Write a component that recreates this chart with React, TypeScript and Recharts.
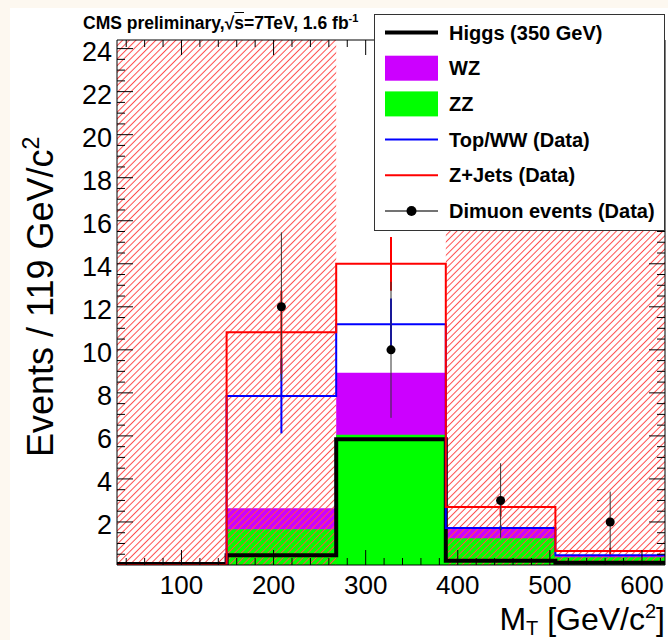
import React from 'react';
import { ComposedChart, Area, Line, Scatter, ErrorBar, XAxis, YAxis, Legend } from 'recharts';

const FONT = '"Liberation Sans", Arial, Helvetica, sans-serif';

// M_T bin edges in GeV/c^2: five bins, 119 GeV wide
const binEdges = [30, 149, 268, 387, 506, 625];

// expected events per bin, stacked from the bottom: ZZ, WZ, Top/WW, Z+Jets
const zzEvents = [0, 1.66, 6.05, 1.24, 0.36];
const wzEvents = [0, 0.98, 2.89, 0.43, 0.06];
const topWWEvents = [0, 5.22, 2.25, 0.05, 0.03];
const zJetsEvents = [0, 2.96, 2.81, 0.98, 0.2];
const higgsEvents = [0.05, 0.45, 5.85, 0.2, 0.1];

// uncertainties of the data-driven backgrounds
const topWWErr = [0, 1.74, 1.2, 0.1, 0.05];
const zJetsErr = [0, 1.93, 1.25, 0.45, 0.15];

// observed dimuon events (nothing in the first bin)
const dataEvents = [0, 12, 10, 3, 2];
const dataErr = [0, 3.46, 3.16, 1.73, 1.41];

// bins outside the M_T window are hatched
const vetoed = [true, true, false, true, true];

const xLabelTicks = [100, 200, 300, 400, 500, 600];
const yLabelTicks = [2, 4, 6, 8, 10, 12, 14, 16, 18, 20, 22, 24];

const X_MIN = 30;
const X_MAX = 625;
const Y_MAX = 24.4;

// minor tick grids; labelled values are picked from the lists above
const xTicks: number[] = [];
for (let v = 40; v <= 620; v += 20) xTicks.push(v);
const yTicks: number[] = [];
for (let v = 0.5; v <= 24; v += 0.5) yTicks.push(v);

const lastBin = binEdges.length - 2;
// one row per bin edge; the last edge repeats the last bin so the steps reach the frame
const histRows = binEdges.map((x, i) => {
  const b = Math.min(i, lastBin);
  const zz = zzEvents[b];
  const wz = zz + wzEvents[b];
  const topww = wz + topWWEvents[b];
  const total = topww + zJetsEvents[b];
  return { x, zz, wz, topww, total, higgs: higgsEvents[b], veto: vetoed[b] ? Y_MAX : 0 };
});

const binCenters = binEdges.slice(0, -1).map((e, i) => (e + binEdges[i + 1]) / 2);
const topWWPoints = binCenters
  .map((x, i) => ({ x, y: histRows[i].topww, err: topWWErr[i] }))
  .filter((p) => p.err > 0);
const zJetsPoints = binCenters
  .map((x, i) => ({ x, y: histRows[i].total, err: zJetsErr[i] }))
  .filter((p) => p.err > 0);
const dataPoints = binCenters
  .map((x, i) => ({ x, y: dataEvents[i], err: dataErr[i] }))
  .filter((p) => p.y > 0);

const legendEntries = [
  { label: 'Higgs (350 GeV)', kind: 'line', color: '#000000', width: 4 },
  { label: 'WZ', kind: 'box', color: '#cc00ff', width: 0 },
  { label: 'ZZ', kind: 'box', color: '#00ff00', width: 0 },
  { label: 'Top/WW (Data)', kind: 'line', color: '#0000ff', width: 2 },
  { label: 'Z+Jets (Data)', kind: 'line', color: '#ff0000', width: 2 },
  { label: 'Dimuon events (Data)', kind: 'marker', color: '#000000', width: 1.5 },
];

const isMajorX = (v: number) => xLabelTicks.includes(v);
const isMajorY = (v: number) => yLabelTicks.includes(v);

// ROOT-style ticks: pointing into the frame, long for majors, short for minors
function BottomTick({ x, y, payload }: any) {
  const v = payload.value;
  const major = isMajorX(v);
  return (
    <g>
      <line x1={x} x2={x} y1={y} y2={y - (major ? 15 : 7)} stroke="#000" />
      {major && (
        <text x={x} y={y + 29} textAnchor="middle" fontSize={26} fontFamily={FONT} fill="#000">
          {v}
        </text>
      )}
    </g>
  );
}

function TopTick({ x, y, payload }: any) {
  const major = isMajorX(payload.value);
  return <line x1={x} x2={x} y1={y} y2={y + (major ? 15 : 7)} stroke="#000" />;
}

function LeftTick({ x, y, payload }: any) {
  const v = payload.value;
  const major = isMajorY(v);
  return (
    <g>
      <line x1={x} x2={x + (major ? 16 : 8)} y1={y} y2={y} stroke="#000" />
      {major && (
        <text x={x - 5} y={y + 12.5} textAnchor="end" fontSize={27} fontFamily={FONT} fill="#000">
          {v}
        </text>
      )}
    </g>
  );
}

function RightTick({ x, y, payload }: any) {
  const major = isMajorY(payload.value);
  return <line x1={x} x2={x - (major ? 16 : 8)} y1={y} y2={y} stroke="#000" />;
}

function XTitle() {
  return (
    <text x={665} y={630} textAnchor="end" fontSize={32} fontFamily={FONT} fill="#000">
      M<tspan fontSize={20} dy={5}>T</tspan>
      <tspan dy={-5}> [GeV/c</tspan>
      <tspan fontSize={20} dy={-12}>2</tspan>
      <tspan dy={12}>]</tspan>
    </text>
  );
}

function YTitle() {
  return (
    <text
      transform="rotate(-90)"
      x={-457}
      y={53}
      textAnchor="start"
      fontSize={36}
      fontFamily={FONT}
      fill="#000"
    >
      Events / 119 GeV/c<tspan fontSize={23} dy={-14}>2</tspan>
    </text>
  );
}

function LegendBox() {
  return (
    <svg width={291} height={217} style={{ display: 'block' }}>
      <rect x={0.5} y={0.5} width={290} height={216} fill="#fff" stroke="#333" />
      {legendEntries.map((e, i) => {
        const cy = 18.5 + i * 35.7;
        return (
          <g key={e.label}>
            {e.kind === 'line' && (
              <line x1={11} x2={64} y1={cy} y2={cy} stroke={e.color} strokeWidth={e.width} />
            )}
            {e.kind === 'box' && <rect x={11} y={cy - 12.5} width={53} height={25} fill={e.color} />}
            {e.kind === 'marker' && (
              <g>
                <line x1={11} x2={64} y1={cy} y2={cy} stroke="#444" strokeWidth={e.width} />
                <circle cx={37.5} cy={cy} r={5} fill={e.color} />
              </g>
            )}
            <text x={75} y={cy + 7} fontSize={20} fontWeight="bold" fontFamily={FONT} fill="#000">
              {e.label}
            </text>
          </g>
        );
      })}
    </svg>
  );
}

const NoMarker = () => null;

export default function App() {
  return (
    <div style={{ position: 'absolute', left: 0, top: 0, width: 668, height: 640, background: '#fdf8f0' }}>
      <div style={{ position: 'absolute', left: 10, top: 8, right: 0, bottom: 0, background: '#ffffff' }} />
      <div
        style={{
          position: 'absolute',
          left: 83,
          top: 12,
          fontFamily: FONT,
          fontWeight: 'bold',
          fontSize: 17.5,
          whiteSpace: 'nowrap',
          color: '#000',
          zIndex: 2,
        }}
      >
        CMS preliminary,√<span style={{ textDecoration: 'overline' }}>s</span>=7TeV, 1.6 fb
        <sup style={{ fontSize: 11 }}>-1</sup>
      </div>
      <div style={{ position: 'absolute', left: 0, top: 0 }}>
        <ComposedChart
          width={668}
          height={640}
          data={histRows}
          margin={{ top: 40, right: 3, bottom: 0, left: 0 }}
        >
          <defs>
            <pattern
              id="veto-hatch"
              patternUnits="userSpaceOnUse"
              width={4.7}
              height={10}
              patternTransform="rotate(45)"
            >
              <line x1={2.35} y1={0} x2={2.35} y2={10} stroke="#ff4d4d" strokeWidth={1} />
            </pattern>
          </defs>
          <XAxis
            xAxisId="x"
            type="number"
            dataKey="x"
            domain={[X_MIN, X_MAX]}
            allowDataOverflow
            ticks={xTicks}
            interval={0}
            tickSize={0}
            tickMargin={0}
            tickLine={false}
            tick={BottomTick}
            height={75}
            axisLine={{ stroke: '#000' }}
            label={XTitle}
          />
          <XAxis
            xAxisId="xTop"
            orientation="top"
            mirror
            type="number"
            dataKey="x"
            domain={[X_MIN, X_MAX]}
            allowDataOverflow
            ticks={xTicks}
            interval={0}
            tickSize={0}
            tickMargin={0}
            tickLine={false}
            tick={TopTick}
            axisLine={{ stroke: '#000' }}
          />
          <YAxis
            yAxisId="y"
            type="number"
            domain={[0, Y_MAX]}
            allowDataOverflow
            ticks={yTicks}
            interval={0}
            tickSize={0}
            tickMargin={0}
            tickLine={false}
            tick={LeftTick}
            width={117}
            axisLine={{ stroke: '#000' }}
            label={YTitle}
          />
          <YAxis
            yAxisId="yRight"
            orientation="right"
            mirror
            type="number"
            domain={[0, Y_MAX]}
            allowDataOverflow
            ticks={yTicks}
            interval={0}
            tickSize={0}
            tickMargin={0}
            tickLine={false}
            tick={RightTick}
            axisLine={{ stroke: '#000' }}
          />

          <Area
            xAxisId="x"
            yAxisId="y"
            type="stepAfter"
            dataKey="wz"
            stroke="none"
            fill="#cc00ff"
            fillOpacity={1}
            isAnimationActive={false}
            activeDot={false}
          />
          <Area
            xAxisId="x"
            yAxisId="y"
            type="stepAfter"
            dataKey="zz"
            stroke="none"
            fill="#00ff00"
            fillOpacity={1}
            isAnimationActive={false}
            activeDot={false}
          />
          <Line
            xAxisId="x"
            yAxisId="y"
            type="stepAfter"
            dataKey="higgs"
            stroke="#000"
            strokeWidth={4}
            dot={false}
            activeDot={false}
            isAnimationActive={false}
          />
          <Area
            xAxisId="x"
            yAxisId="y"
            type="stepAfter"
            dataKey="veto"
            stroke="none"
            fill="url(#veto-hatch)"
            fillOpacity={1}
            isAnimationActive={false}
            activeDot={false}
          />
          <Line
            xAxisId="x"
            yAxisId="y"
            type="stepAfter"
            dataKey="topww"
            stroke="#0000ff"
            strokeWidth={2}
            dot={false}
            activeDot={false}
            isAnimationActive={false}
          />
          <Line
            xAxisId="x"
            yAxisId="y"
            type="stepAfter"
            dataKey="total"
            stroke="#ff0000"
            strokeWidth={2}
            dot={false}
            activeDot={false}
            isAnimationActive={false}
          />
          <Scatter
            xAxisId="x"
            yAxisId="y"
            data={topWWPoints}
            dataKey="y"
            shape={NoMarker}
            isAnimationActive={false}
          >
            <ErrorBar dataKey="err" direction="y" width={0} stroke="#0000ff" strokeWidth={2} />
          </Scatter>
          <Scatter
            xAxisId="x"
            yAxisId="y"
            data={zJetsPoints}
            dataKey="y"
            shape={NoMarker}
            isAnimationActive={false}
          >
            <ErrorBar dataKey="err" direction="y" width={0} stroke="#ff0000" strokeWidth={2} />
          </Scatter>
          <Scatter
            xAxisId="x"
            yAxisId="y"
            data={dataPoints}
            dataKey="y"
            fill="#000"
            isAnimationActive={false}
          >
            <ErrorBar dataKey="err" direction="y" width={0} stroke="#333" strokeWidth={1} />
          </Scatter>

          <Legend
            layout="vertical"
            align="center"
            verticalAlign="middle"
            wrapperStyle={{ left: 374, top: 14, width: 291, height: 217 }}
            content={LegendBox}
          />
        </ComposedChart>
      </div>
    </div>
  );
}
